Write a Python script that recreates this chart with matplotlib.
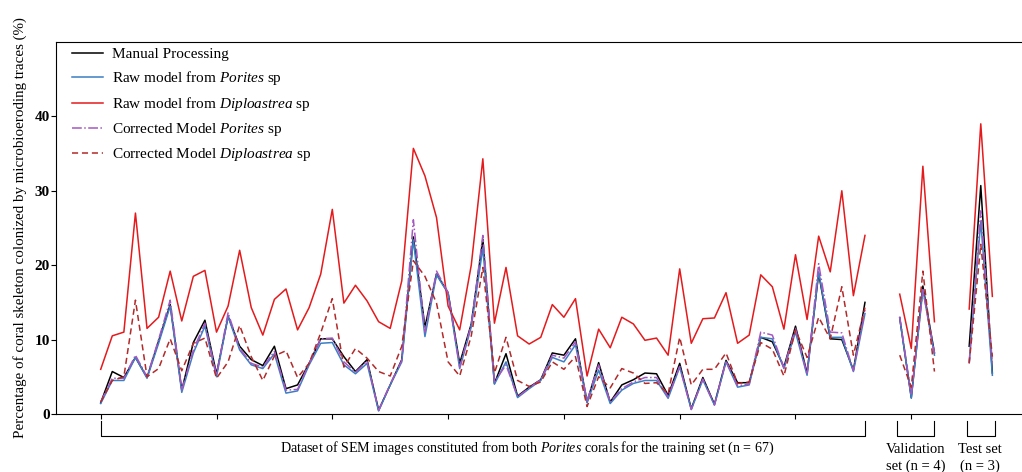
import numpy as np
import matplotlib
matplotlib.use("Agg")
import matplotlib.pyplot as plt
import matplotlib.transforms as mtransforms

plt.rcParams['font.family'] = ['Liberation Serif', 'DejaVu Serif']
plt.rcParams['mathtext.fontset'] = 'custom'
plt.rcParams['mathtext.rm'] = 'Liberation Serif'
plt.rcParams['mathtext.it'] = 'Liberation Serif:italic'

# sample positions: training (67), validation (4), test (3)
x_train = np.arange(0, 67)
x_val = np.arange(69, 73)
x_test = np.arange(75, 78)

manual_train = [1.5, 5.7, 4.9, 7.6, 4.9, 9.8, 14.7, 3.2, 9.6, 12.6, 5.4, 13.1, 9.1, 7.3, 6.5, 9.1, 3.4,
                3.9, 6.8, 10.1, 10.1, 7.7, 5.7, 7.3, 0.5, 3.9, 7.3, 23.8, 11.7, 18.8, 16.3, 6.8, 12.1,
                23.5, 4.1, 8.1, 2.4, 3.6, 4.6, 8.2, 7.9, 10.1, 1.6, 6.9, 1.6, 3.9, 4.6, 5.5, 5.4, 2.5,
                6.8, 0.7, 4.9, 1.3, 7.2, 4.2, 4.2, 10.3, 9.7, 6.3, 11.8, 5.5, 18.9, 10.1, 10.0, 5.9, 15.0]
por_raw_train = [1.4, 4.5, 4.5, 7.6, 4.8, 9.5, 14.5, 2.9, 8.2, 11.8, 5.0, 13.1, 8.6, 6.6, 6.1, 8.1, 2.8,
                 3.1, 6.6, 9.5, 9.6, 6.6, 5.4, 6.8, 0.4, 3.9, 7.0, 23.4, 10.4, 18.7, 16.2, 6.1, 11.7,
                 22.3, 4.0, 7.0, 2.2, 3.4, 4.5, 7.6, 7.0, 9.3, 1.5, 5.9, 1.4, 3.2, 4.1, 4.5, 4.5, 2.1,
                 6.3, 0.6, 4.6, 1.2, 7.0, 3.6, 3.9, 10.3, 10.1, 6.1, 11.0, 5.2, 19.1, 10.3, 10.3, 5.7, 13.5]
dip_raw_train = [6.0, 10.5, 11.0, 27.0, 11.5, 13.0, 19.2, 12.5, 18.5, 19.3, 11.0, 14.5, 22.0, 14.3, 10.6, 15.4, 16.8,
                 11.3, 14.3, 18.8, 27.5, 14.9, 17.3, 15.2, 12.4, 11.5, 17.9, 35.7, 32.0, 26.4, 14.5, 11.3, 20.0,
                 34.3, 12.2, 19.7, 10.5, 9.4, 10.3, 14.7, 13.0, 15.5, 5.1, 11.4, 8.9, 13.0, 12.1, 9.9, 10.2, 7.9,
                 19.5, 9.5, 12.8, 12.9, 16.3, 9.5, 10.6, 18.7, 17.1, 11.4, 21.4, 12.7, 23.9, 19.1, 30.0, 15.9, 24.0]
por_corr_train = [1.6, 4.8, 4.8, 7.9, 5.0, 10.0, 15.3, 3.2, 8.6, 12.2, 5.2, 13.6, 8.8, 6.8, 6.3, 8.4, 3.2,
                  3.3, 6.8, 10.1, 10.2, 7.0, 5.6, 7.1, 0.5, 4.0, 7.2, 26.1, 11.0, 19.2, 16.3, 6.3, 12.0,
                  24.0, 4.3, 6.6, 2.3, 3.5, 4.6, 7.9, 7.5, 9.7, 1.8, 6.6, 1.6, 3.4, 4.3, 4.9, 4.9, 2.3,
                  6.4, 0.6, 4.7, 1.2, 7.1, 3.8, 4.0, 11.0, 10.6, 6.2, 11.5, 5.3, 20.2, 11.0, 10.9, 5.8, 14.0]
dip_corr_train = [1.6, 4.5, 5.0, 15.3, 5.0, 6.1, 10.1, 5.8, 9.5, 10.2, 4.8, 7.0, 11.9, 7.7, 4.5, 7.8, 8.5,
                  4.9, 6.8, 10.9, 15.5, 6.3, 8.8, 7.5, 5.7, 5.1, 9.1, 20.6, 18.5, 14.9, 7.0, 5.1, 10.5,
                  19.7, 5.5, 10.3, 4.5, 3.7, 4.3, 7.0, 6.0, 7.7, 1.0, 5.0, 3.5, 6.1, 5.5, 4.1, 4.2, 2.7,
                  10.3, 3.9, 6.0, 6.0, 8.2, 4.1, 4.3, 9.6, 8.7, 5.1, 11.3, 7.6, 13.0, 10.1, 17.1, 7.9, 14.3]

manual_val = [12.9, 2.2, 17.2, 8.2]
por_raw_val = [12.9, 2.1, 16.7, 7.9]
dip_raw_val = [16.1, 8.8, 33.3, 12.4]
por_corr_val = [13.1, 2.5, 16.7, 8.2]
dip_corr_val = [7.9, 3.6, 19.2, 5.7]

manual_test = [9.1, 30.7, 5.5]
por_raw_test = [7.0, 25.9, 5.2]
dip_raw_test = [14.1, 39.0, 15.8]
por_corr_test = [6.8, 27.3, 6.8]
dip_corr_test = [6.8, 22.8, 7.7]


def joined(train, val, test):
    # NaN breaks the line between the three sets
    xs = np.concatenate([x_train, [np.nan], x_val, [np.nan], x_test])
    ys = np.concatenate([train, [np.nan], val, [np.nan], test])
    return xs, ys


fig = plt.figure(figsize=(10.22, 4.72), dpi=100)
ax = fig.add_axes([0.0548, 0.123, 0.9452, 0.788])

lw = 1.1
ax.plot(*joined(manual_train, manual_val, manual_test), color='black', lw=lw,
        label='Manual Processing')
ax.plot(*joined(por_raw_train, por_raw_val, por_raw_test), color='#3a7fc4', lw=lw,
        label='Raw model from $\\mathit{Porites}$ sp')
ax.plot(*joined(dip_raw_train, dip_raw_val, dip_raw_test), color='#e41a1c', lw=lw,
        label='Raw model from $\\mathit{Diploastrea}$ sp')
ax.plot(*joined(por_corr_train, por_corr_val, por_corr_test), color='#a557c0', lw=lw,
        ls='-.', label='Corrected Model $\\mathit{Porites}$ sp')
ax.plot(*joined(dip_corr_train, dip_corr_val, dip_corr_test), color='#b22a2a', lw=lw,
        ls=(0, (4, 2.5)), label='Corrected Model $\\mathit{Diploastrea}$ sp')

ax.set_xlim(-3.86, 79.56)
ax.set_ylim(0, 50)
ax.set_yticks([0, 10, 20, 30, 40])
ax.set_xticks(np.arange(0, 71, 10))
ax.set_xticklabels([])
ax.tick_params(axis='y', labelsize=11, length=3.5, width=0.8, pad=1)
ax.tick_params(axis='x', length=3.5, width=0.8)
for lab in ax.get_yticklabels():
    lab.set_fontweight('bold')
ax.spines['right'].set_visible(False)
ax.set_ylabel('Percentage of coral skeleton colonized by microbioeroding traces (%)',
              fontsize=10.8, labelpad=5)

ax.legend(loc='upper left', frameon=False, fontsize=11, handlelength=2.05,
          handletextpad=0.55, labelspacing=0.52, borderpad=0.17, borderaxespad=0,
          bbox_to_anchor=(0.0139, 0.992))

# brackets under the x axis
trans = mtransforms.blended_transform_factory(ax.transData, ax.transAxes)
y_top, y_bot = -0.019, -0.059


def bracket(x0, x1):
    ax.plot([x0, x0, x1, x1], [y_top, y_bot, y_bot, y_top], color='black', lw=0.8,
            transform=trans, clip_on=False)


bracket(0, 66)
bracket(68.75, 72)
bracket(74.8, 77.2)

ax.text(36.8, -0.092, 'Dataset of SEM images constituted from both $\\mathit{Porites}$ corals for the training set (n = 67)',
        transform=trans, ha='center', va='center', fontsize=10.1)
ax.text(70.4, -0.118, 'Validation\nset (n = 4)', transform=trans, ha='center', va='center',
        fontsize=10.5, linespacing=1.4)
ax.text(75.9, -0.118, 'Test set\n(n = 3)', transform=trans, ha='center', va='center',
        fontsize=10.5, linespacing=1.4)

fig.savefig('out.png', dpi=100)
